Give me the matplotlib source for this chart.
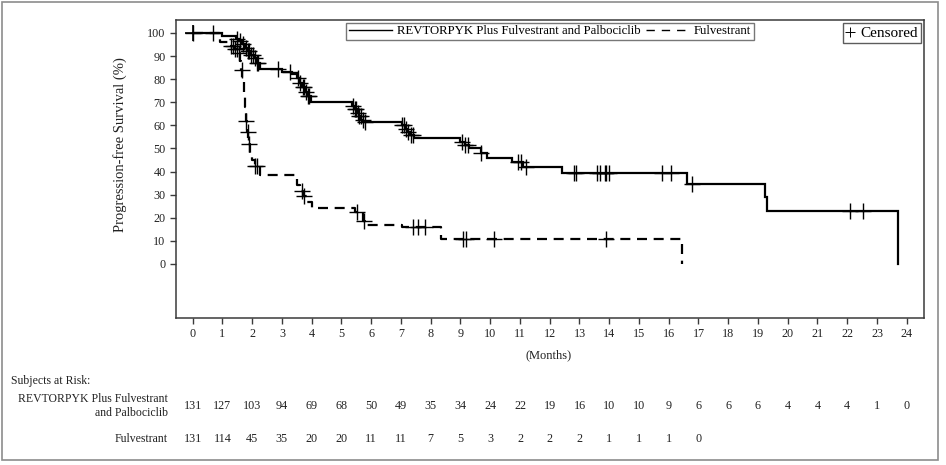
import numpy as np
import matplotlib
matplotlib.use("Agg")
import matplotlib.pyplot as plt
from matplotlib.lines import Line2D
from matplotlib.patches import Rectangle
import matplotlib.transforms as mtransforms

plt.rcParams['font.family'] = ['Liberation Serif', 'DejaVu Serif']

# ---- data ----
arm_names = ["REVTORPYK Plus Fulvestrant and Palbociclib", "Fulvestrant"]

rev_times = [0, 0.97, 1.45, 1.55, 1.65, 1.75, 1.85, 1.95, 2.05, 2.15, 2.25,
             2.99, 3.33, 3.50, 3.60, 3.68, 3.76, 3.85, 3.97,
             5.34, 5.45, 5.52, 5.60, 5.67, 5.74,
             7.02, 7.12, 7.22, 7.32, 7.45,
             9.00, 9.15, 9.30, 9.70, 9.90, 10.72, 11.10, 12.40,
             16.60, 19.24, 19.30, 23.72]
rev_surv = [100, 98.5, 97.5, 96.5, 95, 93.5, 92, 90.5, 89, 87, 84.5,
            83.3, 82.1, 80.5, 78.5, 76.5, 74.5, 72.5, 70.3,
            68.5, 67, 65.5, 64, 62.5, 61.3,
            60, 58.5, 57, 55.8, 54.6,
            52.9, 51.5, 50.0, 47.9, 45.7, 44.3, 41.9, 39.5,
            34.6, 28.9, 23.1, 0]
rev_censor = [0.02, 0.69, 1.5, 1.6, 1.7, 1.78, 1.85, 1.9, 1.97, 2.02, 2.08, 2.15, 2.2,
              2.88, 3.27, 3.55, 3.62, 3.7, 3.74, 3.8, 3.86, 3.92,
              5.4, 5.45, 5.5, 5.55, 5.6, 5.65, 5.72, 5.8,
              7.05, 7.1, 7.16, 7.25, 7.35, 7.42,
              9.06, 9.15, 9.25, 9.7, 10.95, 11.05, 11.2,
              12.8, 12.9, 13.6, 13.7, 13.85, 13.9, 14.0,
              15.76, 16.07, 16.77, 22.1, 22.54]

ful_times = [0, 0.92, 1.25, 1.40, 1.52, 1.58, 1.63, 1.67, 1.71, 1.75, 1.79,
             1.83, 1.87, 1.92, 2.00, 2.10, 2.25,
             3.52, 3.60, 3.72, 3.85, 4.00, 5.45, 5.72, 5.80,
             7.02, 8.35, 16.44]
ful_surv = [100, 96, 94.5, 93, 91.5, 88, 84, 80, 74, 68, 62,
            57, 52, 48, 45, 42.5, 38.6,
            34, 31.5, 29.5, 27, 24.1, 22.6, 18.6, 16.9,
            16.2, 10.8, 0]
ful_censor = [1.3, 1.36, 1.42, 1.48, 1.55, 1.65, 1.8, 1.86, 1.9, 2.1, 2.16,
              3.68, 3.75, 5.51, 5.75, 7.4, 7.58, 7.8, 9.1, 9.2, 10.14, 13.9]

risk_months = list(range(0, 25))
rev_at_risk = [131, 127, 103, 94, 69, 68, 50, 49, 35, 34, 24, 22, 19, 16, 10, 10,
               9, 6, 6, 6, 4, 4, 4, 1, 0]
ful_at_risk = [131, 114, 45, 35, 20, 20, 11, 11, 7, 5, 3, 2, 2, 2, 1, 1, 1, 0]

x_ticks = list(range(0, 25))
y_ticks = list(range(0, 101, 10))

# ---- figure ----
W, H = 946, 465
fig = plt.figure(figsize=(W / 100, H / 100), dpi=100)
fig.patch.set_facecolor('white')

# outer border
fig.patches.append(Rectangle((1.5 / W, 1 - 460 / H), (938 - 1.5) / W, (460 - 2) / H,
                             transform=fig.transFigure, fill=False,
                             edgecolor='#8c8c8c', linewidth=1.2))

ax = fig.add_axes([176 / W, 1 - 318 / H, (924 - 176) / W, (318 - 20) / H])
ax.set_xlim(-0.56, 24.58)
ax.set_ylim(-23.4, 105.6)

lw = 1.6
ax.step(rev_times, rev_surv, where='post', color='black', lw=lw, solid_joinstyle='miter')
ax.step(ful_times, ful_surv, where='post', color='black', lw=lw, linestyle=(0, (4.5, 3.0)))


def level_at(times, surv, t):
    i = np.searchsorted(np.asarray(times), t, side='right') - 1
    return np.asarray(surv)[i]


rev_cy = [level_at(rev_times, rev_surv, t) for t in rev_censor]
ful_cy = [level_at(ful_times, ful_surv, t) for t in ful_censor]
ax.plot([0.0], [100], linestyle='none', marker='+', color='black', markersize=12, markeredgewidth=1.2)
ax.plot(rev_censor, rev_cy, linestyle='none', marker='+', color='black', markersize=11, markeredgewidth=1.0)
ax.plot(ful_censor, ful_cy, linestyle='none', marker='+', color='black', markersize=11, markeredgewidth=1.0)

for s in ax.spines.values():
    s.set_color('#3a3a3a')
    s.set_linewidth(1.1)
ax.set_xticks(x_ticks)
ax.set_yticks(y_ticks)
ax.tick_params(direction='out', length=4.5, width=1, color='#3a3a3a', labelsize=8.7,
               labelcolor='#222222', pad=3)

# legends
h1 = Line2D([], [], color='black', lw=1.0)
h2 = Line2D([], [], color='black', lw=1.0, linestyle=(0, (6, 5)))
leg1 = ax.legend([h1, h2], arm_names, loc='upper center', bbox_to_anchor=(0.5, 1.0),
                 ncol=2, fontsize=9.2, frameon=True, fancybox=False, handlelength=3.4,
                 handletextpad=0.35, columnspacing=0.45, borderaxespad=0.2,
                 borderpad=0.2)
leg1.get_frame().set_edgecolor('#555555')
leg1.get_frame().set_linewidth(1.0)
ax.add_artist(leg1)
h3 = Line2D([], [], color='black', lw=0, marker='+', markersize=6.5, markeredgewidth=0.7)
leg2 = ax.legend([h3], ['Censored'], loc='upper right', bbox_to_anchor=(1.0, 1.0),
                 fontsize=11, frameon=True, fancybox=False, handlelength=0.5,
                 handletextpad=0.4, borderaxespad=0.2, borderpad=0.22)
leg2.get_frame().set_edgecolor('#333333')
leg2.get_frame().set_linewidth(1.0)

# axis labels
fig.text(549 / W, 1 - 355 / H, '(Months)', ha='center', va='center', fontsize=9, color='#222222')
fig.text(120 / W, 1 - 145 / H, 'Progression-free Survival (%)', ha='center', va='center',
         rotation=90, fontsize=10.5, color='#222222')

# risk table
fs_lab = 8.5
fs = 8.7
fig.text(11 / W, 1 - 381 / H, 'Subjects at Risk:', ha='left', va='center', fontsize=fs_lab, color='#222222')
fig.text(168 / W, 1 - 399 / H, 'REVTORPYK Plus Fulvestrant', ha='right', va='center', fontsize=fs_lab, color='#222222')
fig.text(168 / W, 1 - 413 / H, 'and Palbociclib', ha='right', va='center', fontsize=fs_lab, color='#222222')
fig.text(168 / W, 1 - 439 / H, 'Fulvestrant', ha='right', va='center', fontsize=fs_lab, color='#222222')

trans = mtransforms.blended_transform_factory(ax.transData, fig.transFigure)
for m, n in zip(risk_months, rev_at_risk):
    ax.text(m, 1 - 406 / H, str(n), transform=trans, ha='center', va='center',
            fontsize=fs, color='#222222', clip_on=False)
for m, n in zip(risk_months, ful_at_risk):
    ax.text(m, 1 - 439 / H, str(n), transform=trans, ha='center', va='center',
            fontsize=fs, color='#222222', clip_on=False)

fig.savefig('out.png', dpi=100)
